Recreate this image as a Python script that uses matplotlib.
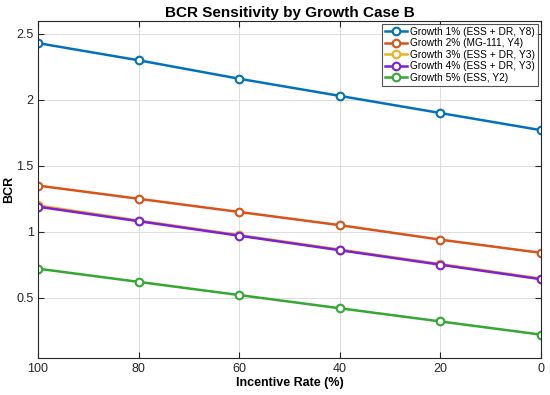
import matplotlib
matplotlib.use("Agg")
import matplotlib.pyplot as plt

plt.rcParams['font.family'] = ['Liberation Sans', 'DejaVu Sans']

rates = [100, 80, 60, 40, 20, 0]
labels = ["Growth 1% (ESS + DR, Y8)", "Growth 2% (MG-111, Y4)", "Growth 3% (ESS + DR, Y3)",
          "Growth 4% (ESS + DR, Y3)", "Growth 5% (ESS, Y2)"]
g1 = [2.43, 2.30, 2.16, 2.03, 1.90, 1.77]
g2 = [1.35, 1.25, 1.15, 1.05, 0.94, 0.84]
g3 = [1.20, 1.085, 0.975, 0.865, 0.755, 0.645]
g4 = [1.19, 1.08, 0.97, 0.86, 0.75, 0.64]
g5 = [0.72, 0.62, 0.52, 0.42, 0.32, 0.22]
series = [g1, g2, g3, g4, g5]
colors = ['#0072BD', '#D95319', '#EDB120', '#7E1FD8', '#33A833']

fig = plt.figure(figsize=(5.5, 3.95), dpi=100)
ax = fig.add_axes([0.069, 0.0944, 0.9146, 0.8532])
for y, c, lab in zip(series, colors, labels):
    ax.plot(rates, y, '-o', color=c, lw=1.8, ms=5.5, mfc='white', mew=1.5, label=lab)

ax.set_xlim(100, 0)
ax.set_ylim(0.045, 2.6)
ax.set_xticks([100, 80, 60, 40, 20, 0])
ax.set_yticks([0.5, 1, 1.5, 2, 2.5])
ax.set_yticklabels(['0.5', '1', '1.5', '2', '2.5'])
ax.grid(True, color='#dcdcdc', lw=0.7)
ax.set_axisbelow(True)
ax.tick_params(direction='in', top=True, right=True, labelsize=9, colors='#262626', length=4)
ax.tick_params(axis='y', pad=3)
for s in ax.spines.values():
    s.set_color('#262626')
    s.set_linewidth(0.8)
ax.set_title('BCR Sensitivity by Growth Case B', fontsize=11, fontweight='bold', pad=3)
ax.set_xlabel('Incentive Rate (%)', fontsize=9, fontweight='bold', labelpad=2)
ax.set_ylabel('BCR', fontsize=9, fontweight='bold')
ax.yaxis.set_label_coords(-0.045, 0.5)
leg = ax.legend(loc='upper right', fontsize=7.3, frameon=True, fancybox=False,
                edgecolor='#262626', handlelength=2.2, handletextpad=0.3,
                borderpad=0.3, labelspacing=0.15, borderaxespad=0.3)
leg.get_frame().set_linewidth(0.8)
fig.savefig('out.png', dpi=100)
